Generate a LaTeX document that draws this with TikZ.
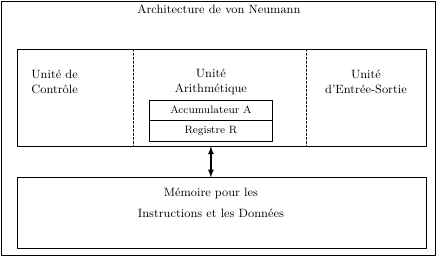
\documentclass[tikz,border=0pt]{standalone}
\usetikzlibrary{arrows,positioning}

\begin{document}
\begin{tikzpicture}[line cap=round,line join=round,line width=.6pt,
    unite/.style={align=center,font=\small},
    bloc/.style={draw,inner sep=0pt,minimum width=10.75cm},
    registre/.style={draw,inner sep=0pt,minimum width=3.26cm,minimum height=.53cm,font=\footnotesize}]
  \useasboundingbox (0,0) rectangle (11.5,-6.763);
  \draw (.045,-.045) rectangle (11.455,-6.72);
  \node[font=\small] (titre) at (5.76,-.25) {Architecture de von Neumann};

  \node[bloc,minimum height=2.545cm] (unites) at (5.835,-2.57) {};
  \draw[dash pattern=on 1.5pt off 1.5pt] (3.5,-1.297) -- (3.5,-3.842);
  \draw[dash pattern=on 1.5pt off 1.5pt] (8.05,-1.297) -- (8.05,-3.842);

  \node[unite,anchor=west,align=left] (controle) at (.7,-2.16) {Unité de\\Contrôle};
  \node[unite] (arith) at (5.55,-2.16) {Unité\\Arithmétique};
  \node[unite] (entree) at (9.63,-2.16) {Unité\\d'Entrée-Sortie};

  \node[registre] (accu) at (5.55,-2.895) {Accumulateur A};
  \node[registre,below=0pt of accu] (regr) {Registre R};

  \node[bloc,minimum height=1.858cm] (memoire) at (5.835,-5.605) {};
  \node[unite] (memtexte) at (5.55,-5.34) {Mémoire pour les\\[5pt]Instructions et les Données};

  \draw[line width=1pt,arrows={latex-latex}]
    (regr.south |- unites.south) -- (regr.south |- memoire.north);
\end{tikzpicture}
\end{document}
